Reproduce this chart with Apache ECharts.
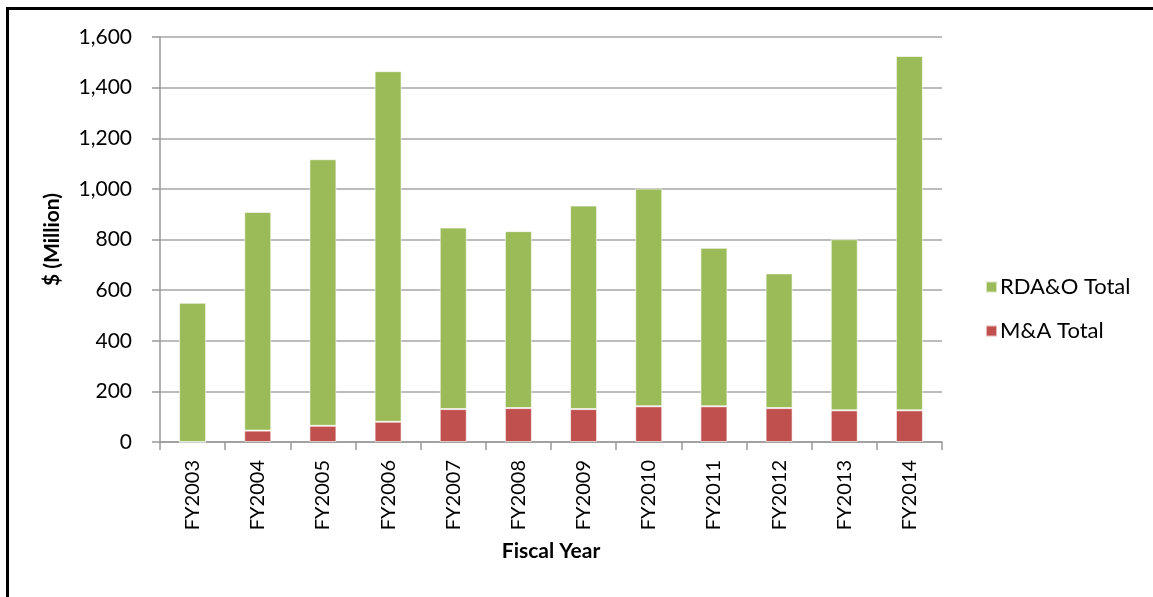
<!DOCTYPE html>
<html>
<head>
<meta charset="utf-8">
<script src="https://cdn.jsdelivr.net/npm/echarts@6/dist/echarts.min.js"></script>
<style>
  html, body { margin: 0; padding: 0; background: #fff; }
  .frame {
    position: absolute; left: 6px; top: 7px; width: 1147px; height: 590px;
    border-left: 3px solid #000; border-top: 3px solid #000;
  }
  #chart { position: absolute; left: 0; top: 0; width: 1153px; height: 597px; }
</style>
</head>
<body>
<div class="frame"></div>
<div id="chart"></div>
<script>
const years = ['FY2003', 'FY2004', 'FY2005', 'FY2006', 'FY2007', 'FY2008', 'FY2009', 'FY2010', 'FY2011', 'FY2012', 'FY2013', 'FY2014'];
const maTotal = [0, 45, 64, 80, 130, 134, 130, 141, 141, 134, 125, 125];
const rdaoTotal = [550, 864, 1053, 1385, 717, 699, 804, 860, 626, 532, 676, 1400];

const fontFamily = 'Lato, "Open Sans", sans-serif';
const chart = echarts.init(document.getElementById('chart'));

const barStyle = (color) => ({
  color: color,
  borderColor: 'rgba(255,255,255,0.6)',
  borderWidth: 1
});

chart.setOption({
  animation: false,
  color: ['#C0504D', '#9BBB59'],
  textStyle: { fontFamily: fontFamily },
  grid: { left: 160, right: 211, top: 37, bottom: 155 },
  legend: {
    orient: 'vertical',
    left: 980,
    top: 271,
    itemWidth: 11,
    itemHeight: 11,
    itemGap: 22,
    icon: 'rect',
    data: ['RDA&O Total', 'M&A Total'],
    textStyle: { fontSize: 22, color: '#000', fontFamily: fontFamily, padding: [0, 0, 0, -2] }
  },
  xAxis: {
    type: 'category',
    data: years,
    name: 'Fiscal Year',
    nameLocation: 'middle',
    nameGap: 99,
    nameTextStyle: { fontSize: 21, fontWeight: 'bold', color: '#000' },
    axisLine: { lineStyle: { color: '#999', width: 1.5 } },
    axisTick: { show: true, length: 8, lineStyle: { color: '#999', width: 1.5 } },
    axisLabel: { rotate: 90, margin: 18, fontSize: 20, color: '#000' }
  },
  yAxis: {
    type: 'value',
    min: 0,
    max: 1600,
    interval: 200,
    name: '$ (Million)',
    nameLocation: 'middle',
    nameGap: 97,
    nameRotate: 90,
    nameTextStyle: { fontSize: 21, fontWeight: 'bold', color: '#000' },
    axisLine: { show: true, lineStyle: { color: '#999', width: 1.5 } },
    axisTick: { show: true, length: 8, lineStyle: { color: '#999', width: 1.5 } },
    axisLabel: {
      margin: 28,
      fontSize: 21,
      color: '#000',
      formatter: (v) => v.toLocaleString('en-US')
    },
    splitLine: { lineStyle: { color: '#a6a6a6', width: 1.5 } }
  },
  series: [
    {
      name: 'M&A Total',
      type: 'bar',
      stack: 'total',
      data: maTotal,
      barWidth: 27,
      itemStyle: barStyle('#C0504D')
    },
    {
      name: 'RDA&O Total',
      type: 'bar',
      stack: 'total',
      data: rdaoTotal,
      barWidth: 27,
      itemStyle: barStyle('#9BBB59')
    }
  ]
});
</script>
</body>
</html>
